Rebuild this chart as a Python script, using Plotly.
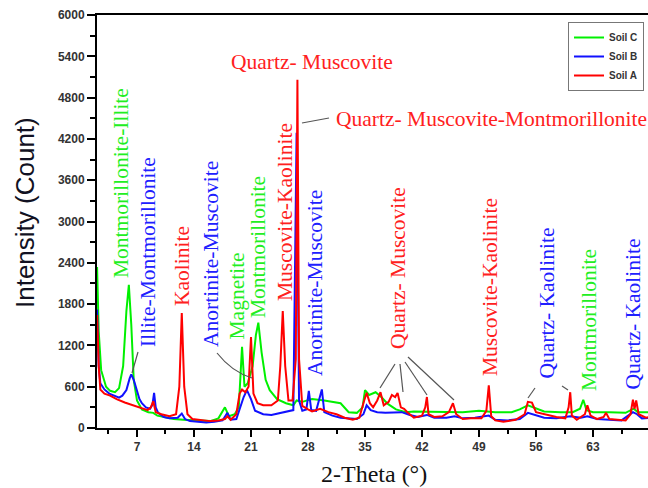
import plotly.graph_objects as go

# ---------------- data ----------------
soil_a_x = [2.1, 2.3, 2.5, 3.0, 3.7, 4.5, 5.5, 6.5, 7.5, 8.3, 8.7, 9.0, 9.3, 10.0, 11.0, 11.8, 12.2, 12.5, 12.8, 13.2,
            13.8, 15, 16, 17, 17.8, 18.1, 18.5, 19.2, 19.6, 19.9, 20.3, 20.7, 21.0, 21.3, 21.8, 22.5, 23.5, 24.3, 24.6, 24.9,
            25.2, 25.6, 26.1, 26.5, 26.7, 26.9, 27.3, 28.0, 28.5, 29.5, 30.5, 31.5, 32.5, 33.5, 34.3, 34.9, 35.2, 35.6, 36.0, 36.5,
            36.9, 37.3, 37.9, 38.3, 38.7, 39.0, 39.4, 39.8, 40.2, 41, 42, 42.4, 42.6, 42.8, 43.5, 44.5, 45.3, 45.8, 46.2, 47,
            48, 49.3, 49.9, 50.2, 50.5, 51, 52, 53.5, 54.6, 55.0, 55.5, 56, 57, 58.5, 59.6, 60.0, 60.2, 60.4, 61, 62.0,
            62.3, 62.7, 63.5, 64.3, 64.6, 65, 66, 67, 67.6, 67.9, 68.1, 68.3, 68.6, 69.5, 70.6]
soil_a_y = [1640, 900, 560, 500, 470, 420, 370, 330, 290, 260, 300, 390, 230, 200, 170, 200, 600, 1670, 600, 200,
            130, 110, 100, 110, 130, 170, 120, 200, 500, 560, 520, 600, 1320, 500, 360, 330, 330, 400, 900, 1700,
            900, 400, 400, 1000, 5060, 1000, 320, 270, 240, 280, 230, 200, 150, 120, 150, 400, 510, 360, 300, 400,
            520, 330, 380, 480, 450, 510, 300, 280, 230, 150, 180, 300, 450, 200, 160, 170, 230, 360, 200, 130,
            140, 140, 250, 620, 170, 110, 90, 120, 200, 380, 370, 230, 200, 160, 140, 300, 520, 180, 120, 200,
            330, 180, 130, 160, 220, 130, 120, 110, 200, 410, 280, 400, 200, 150, 180]

soil_b_x = [2.1, 2.3, 2.5, 3.0, 3.6, 4.2, 4.8, 5.2, 5.7, 6.1, 6.3, 6.6, 7.0, 7.3, 7.6, 8.1, 8.6, 8.9, 9.1, 9.3,
            9.6, 10.3, 11, 12.0, 12.5, 12.9, 13.5, 14.5, 15.5, 16.5, 17.5, 18.1, 18.5, 19.2, 19.7, 20.1, 20.5, 21.0, 21.5, 22.5,
            23.5, 24.5, 25.5, 26.2, 26.6, 26.9, 27.3, 27.8, 28.1, 28.4, 29.0, 29.7, 30.0, 31, 32, 33, 34, 34.8, 35.2, 35.7,
            36.5, 37.5, 38.5, 39.5, 40.5, 41.5, 42.6, 43.5, 45, 46, 47, 48.5, 50.2, 51, 52.5, 54, 55.0, 55.6, 57, 58.5,
            60.2, 61.5, 62.3, 63.5, 65, 66.5, 67.9, 68.4, 69, 70.6]
soil_b_y = [1720, 900, 650, 560, 500, 470, 440, 470, 550, 720, 780, 700, 550, 420, 360, 300, 280, 340, 510, 300,
            220, 160, 140, 150, 210, 130, 100, 90, 80, 90, 110, 220, 120, 130, 300, 450, 550, 420, 250, 200,
            190, 220, 240, 260, 4290, 400, 250, 270, 540, 260, 250, 560, 230, 180, 150, 140, 130, 200, 330, 260,
            230, 220, 230, 230, 190, 160, 190, 150, 150, 170, 140, 150, 180, 120, 110, 130, 220, 200, 150, 140,
            170, 150, 170, 130, 120, 110, 230, 200, 140, 150]

soil_c_x = [2.1, 2.3, 2.6, 3.2, 3.7, 4.3, 4.8, 5.3, 5.7, 6.0, 6.3, 6.6, 7.0, 7.6, 8.4, 9.0, 9.5, 10.5, 11.5, 12.7,
            14, 15, 16, 17, 17.8, 18.3, 19.0, 19.5, 19.9, 20.2, 20.6, 21.2, 21.6, 21.9, 22.3, 22.8, 23.3, 24.2, 25.3, 26.2,
            26.6, 27.3, 28.5, 30, 31, 32, 33, 34, 34.7, 35.0, 35.5, 36.3, 37.0, 37.8, 38.8, 40, 41, 43, 45, 47,
            49, 51, 53, 54, 55, 56, 57, 59, 60.5, 61.4, 61.8, 62.2, 63, 65, 67, 68, 68.5, 70.6]
soil_c_y = [2340, 1400, 840, 600, 540, 520, 580, 900, 1700, 2080, 1500, 700, 400, 270, 230, 220, 180, 150, 130, 120,
            110, 100, 100, 140, 300, 170, 200, 300, 1180, 600, 650, 900, 1350, 1530, 1100, 700, 550, 420, 360, 330,
            400, 380, 420, 400, 380, 360, 230, 220, 300, 550, 480, 520, 450, 350, 270, 230, 240, 240, 230, 230,
            250, 230, 230, 270, 330, 280, 240, 230, 230, 280, 410, 260, 230, 230, 220, 280, 230, 230]

series_names = ["Soil C", "Soil B", "Soil A"]
series_colors = ["#00f000", "#1010ff", "#ff0000"]

x_ticks = [7, 14, 21, 28, 35, 42, 49, 56, 63, 70]
y_ticks = [0, 600, 1200, 1800, 2400, 3000, 3600, 4200, 4800, 5400, 6000]

# phase labels: (text, colour index, centre px x, bottom px y)
phase_labels_v = [
    ("Montmorillonite-Illite", 0, 121, 280),
    ("Illite-Montmorillonite", 1, 148, 349),
    ("Kaolinite", 2, 182, 308),
    ("Anortinite-Muscovite", 1, 211, 349),
    ("Magnetite", 0, 236, 342),
    ("Montmorillonite", 0, 258, 320),
    ("Muscovite-Kaolinite", 2, 285, 303),
    ("Anortinite-Muscovite", 1, 315, 378),
    ("Quartz- Muscovite", 2, 398, 351),
    ("Muscovite-Kaolinite", 2, 490, 378),
    ("Quartz- Kaolinite", 1, 546, 381),
    ("Montmorillonite", 0, 589, 393),
    ("Quartz- Kaolinite", 1, 632, 392),
]

# ---------------- layout geometry ----------------
W, H = 648, 488
L, R, T, B = 97, 0, 15, 60
XMIN, XMAX = 2.09, 69.75
YMIN, YMAX = 0, 6000
pw, ph = W - L - R, H - T - B


def dx(px):
    return XMIN + (px - L) / pw * (XMAX - XMIN)


def dy(py):
    return YMIN + (T + ph - py) / ph * (YMAX - YMIN)


fig = go.Figure()
for name, col, xs, ys in zip(series_names, series_colors,
                             [soil_c_x, soil_b_x, soil_a_x], [soil_c_y, soil_b_y, soil_a_y]):
    fig.add_trace(go.Scatter(x=xs, y=ys, mode="lines", name=name,
                             line=dict(color=col, width=2)))

text_colors = ["#22ee22", "#2020ff", "#ff2020"]
serif = "Liberation Serif, Times New Roman, serif"
LBL = 21.5
annotations = []
for txt, ci, cx, by in phase_labels_v:
    annotations.append(dict(x=dx(cx), y=dy(by), xref="x", yref="y", text=txt, showarrow=False,
                            textangle=-90, xanchor="center", yanchor="bottom",
                            font=dict(family=serif, size=LBL, color=text_colors[ci])))
annotations.append(dict(x=dx(312), y=dy(62), xref="x", yref="y", text="Quartz- Muscovite", showarrow=False,
                        xanchor="center", yanchor="middle",
                        font=dict(family=serif, size=LBL, color=text_colors[2])))
annotations.append(dict(x=dx(334), y=dy(119), xref="x", yref="y", text="Quartz- Muscovite-Montmorillonite",
                        showarrow=False, xanchor="left", yanchor="middle",
                        font=dict(family=serif, size=LBL, color=text_colors[2])))
# axis titles
annotations.append(dict(x=(25 - L) / pw, y=(T + ph - 213) / ph, xref="paper", yref="paper",
                        text="Intensity (Count)", showarrow=False, textangle=-90,
                        xanchor="center", yanchor="middle",
                        font=dict(family="Liberation Sans, Arial, sans-serif", size=26, color="#111122")))
annotations.append(dict(x=(374 - L) / pw, y=(T + ph - 474) / ph, xref="paper", yref="paper",
                        text="2-Theta (°)", showarrow=False, xanchor="center", yanchor="middle",
                        font=dict(family=serif, size=24, color="#111111")))

pointer_lines = [
    ((138, 352), (132, 373)),
    ((302, 123), (329, 118)),
    ((395, 364), (380, 388)),
    ((400, 364), (403, 392)),
    ((405, 362), (427, 395)),
    ((408, 357), (454, 400)),
    ((535, 388), (528, 398)),
    ((562, 386), (568, 390)),
]
shapes = []
for (x0, y0), (x1, y1) in pointer_lines:
    shapes.append(dict(type="line", xref="x", yref="y", x0=dx(x0), y0=dy(y0), x1=dx(x1), y1=dy(y1),
                       line=dict(color="#555555", width=1.2)))
shapes.append(dict(type="path", xref="x", yref="y",
                   path=f"M {dx(217)} {dy(353)} Q {dx(232)} {dy(372)} {dx(252)} {dy(378)}",
                   line=dict(color="#555555", width=1.2)))

tickfont = dict(family="Liberation Sans, Arial, sans-serif", size=12, color="#333333", weight="bold")

fig.update_layout(
    width=W, height=H,
    margin=dict(l=L, r=R, t=T, b=B, autoexpand=False),
    paper_bgcolor="white", plot_bgcolor="white",
    showlegend=True,
    legend=dict(x=(644 - L) / pw, y=1 - (22 - T) / ph, xanchor="right", yanchor="top",
                bgcolor="white", bordercolor="#777777", borderwidth=1,
                font=dict(family="Liberation Sans, Arial, sans-serif", size=10, color="#333333", weight="bold"),
                itemwidth=30, tracegroupgap=0),
    annotations=annotations,
    shapes=shapes,
    xaxis=dict(range=[XMIN, XMAX], tickvals=x_ticks, ticks="outside", ticklen=7, tickwidth=1.5,
               tickcolor="black", showline=True, linecolor="black", linewidth=2, mirror=True,
               showgrid=False, zeroline=False, tickfont=tickfont,
               minor=dict(dtick=3.5, tick0=0, ticks="outside", ticklen=4, tickwidth=1.5, tickcolor="black",
                          showgrid=False)),
    yaxis=dict(range=[YMIN, YMAX], tickvals=y_ticks, ticks="outside", ticklen=8, tickwidth=1.5,
               tickcolor="black", showline=True, linecolor="black", linewidth=2,
               showgrid=False, zeroline=False, tickfont=tickfont,
               minor=dict(dtick=300, tick0=0, ticks="outside", ticklen=5, tickwidth=1.5, tickcolor="black",
                          showgrid=False)),
)

fig.write_html("out.html", config={"displayModeBar": False},
               post_script="document.body.style.margin='0';document.body.style.overflow='hidden';")
